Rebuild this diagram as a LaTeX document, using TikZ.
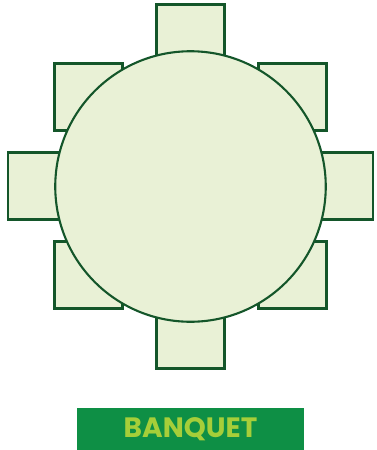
\documentclass[tikz,border=0pt]{standalone}
\usepackage{fontspec}
\setmainfont{Poppins}
\definecolor{seatfill}{HTML}{E9F1D6}
\definecolor{seatline}{HTML}{14562A}
\definecolor{bannerfill}{HTML}{0E8F45}
\definecolor{bannertext}{HTML}{A6CE39}
\tikzset{
  seat/.style={draw=seatline,fill=seatfill,line width=2.1pt,minimum width=68pt,minimum height=67pt,inner sep=0pt,outer sep=0pt,rectangle},
  tabletop/.style={draw=seatline,fill=seatfill,line width=2.1pt,circle,minimum size=270.5pt,inner sep=0pt,outer sep=0pt},
  banner/.style={fill=bannerfill,text=bannertext,minimum width=227pt,minimum height=42pt,inner sep=0pt,outer sep=0pt,rectangle,font=\fontsize{28}{28}\selectfont\bfseries}
}
\begin{document}
\begin{tikzpicture}[x=1pt,y=-1pt]
\useasboundingbox (0,0) rectangle (377,450);
\node[seat] (seatN) at (190.5,38) {};
\node[seat] (seatS) at (190.5,335) {};
\node[seat] (seatW) at (42,186) {};
\node[seat] (seatE) at (339,186) {};
\node[seat] (seatNW) at (88.5,97) {};
\node[seat] (seatNE) at (292.5,97) {};
\node[seat] (seatSW) at (88.5,275) {};
\node[seat] (seatSE) at (292.5,275) {};
\node[tabletop] (table) at (190.5,186.5) {};
\node[banner] (label) at (190.5,429) {\raisebox{-1.5pt}{BANQUET}};
\end{tikzpicture}
\end{document}
